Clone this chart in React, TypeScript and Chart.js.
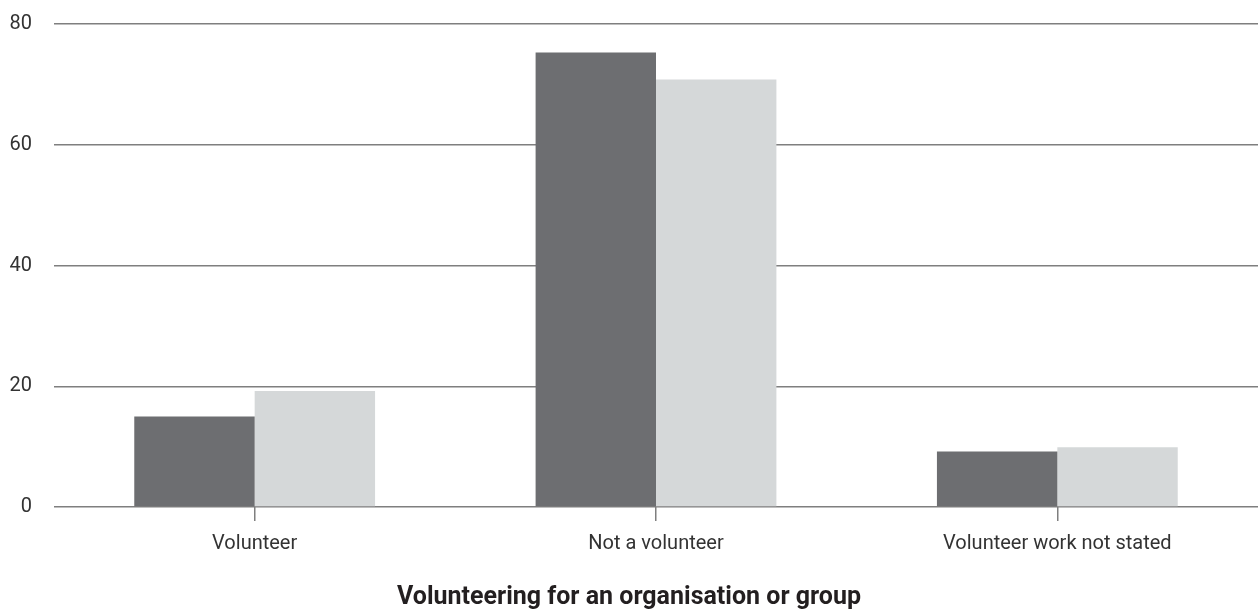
import React, { useEffect, useRef } from "react";
import { Chart, registerables } from "chart.js";

Chart.register(...registerables);

const categories = ["Volunteer", "Not a volunteer", "Volunteer work not stated"];
const seriesDark = [15.0, 75.3, 9.2];
const seriesLight = [19.2, 70.8, 9.9];
const yTicks = [0, 20, 40, 60, 80];
const xTitle = "Volunteering for an organisation or group";

const FONT = "Roboto, 'Noto Sans', sans-serif";

export default function App() {
  const ref = useRef<HTMLCanvasElement | null>(null);

  useEffect(() => {
    if (!ref.current) return;
    const chart = new Chart(ref.current, {
      type: "bar",
      data: {
        labels: categories,
        datasets: [
          {
            label: "Series A",
            data: seriesDark,
            backgroundColor: "#6d6e71",
            borderWidth: 0,
            categoryPercentage: 0.6,
            barPercentage: 1.0,
          },
          {
            label: "Series B",
            data: seriesLight,
            backgroundColor: "#d5d8d9",
            borderWidth: 0,
            categoryPercentage: 0.6,
            barPercentage: 1.0,
          },
        ],
      },
      options: {
        animation: false,
        responsive: true,
        maintainAspectRatio: false,
        layout: { padding: { top: 24, left: 0, right: 1, bottom: 0 } },
        plugins: {
          legend: { display: false },
          tooltip: { enabled: false },
          title: {
            display: true,
            position: "bottom",
            text: xTitle,
            color: "#231f20",
            font: { family: FONT, size: 25, weight: "bold" },
            padding: { top: 16, bottom: 1 },
          },
        },
        scales: {
          x: {
            offset: true,
            afterFit: (scale: any) => {
              scale.paddingLeft = 0;
              scale.paddingRight = 0;
            },
            grid: {
              offset: false,
              drawOnChartArea: false,
              drawTicks: true,
              tickLength: 14,
              color: "#7f7f7f",
              lineWidth: 1.5,
            },
            border: { display: false },
            ticks: {
              padding: 11,
              color: "#333333",
              font: { family: FONT, size: 20, weight: "normal" },
              maxRotation: 0,
              autoSkip: false,
            },
          },
          y: {
            min: 0,
            max: 80,
            afterBuildTicks: (scale: any) => {
              scale.ticks = yTicks.map((v) => ({ value: v }));
            },
            afterFit: (scale: any) => {
              scale.width = 54;
              scale.paddingTop = 0;
              scale.paddingBottom = 0;
            },
            grid: {
              drawTicks: false,
              color: "#7f7f7f",
              lineWidth: 1.5,
            },
            border: { display: false },
            ticks: {
              padding: 22,
              color: "#333333",
              font: { family: FONT, size: 20, weight: "normal" },
            },
          },
        },
      },
    });
    return () => chart.destroy();
  }, []);

  return (
    <div
      style={{
        position: "absolute",
        left: 0,
        top: 0,
        width: 1259,
        height: 614,
        background: "#ffffff",
      }}
    >
      <canvas ref={ref} />
    </div>
  );
}
